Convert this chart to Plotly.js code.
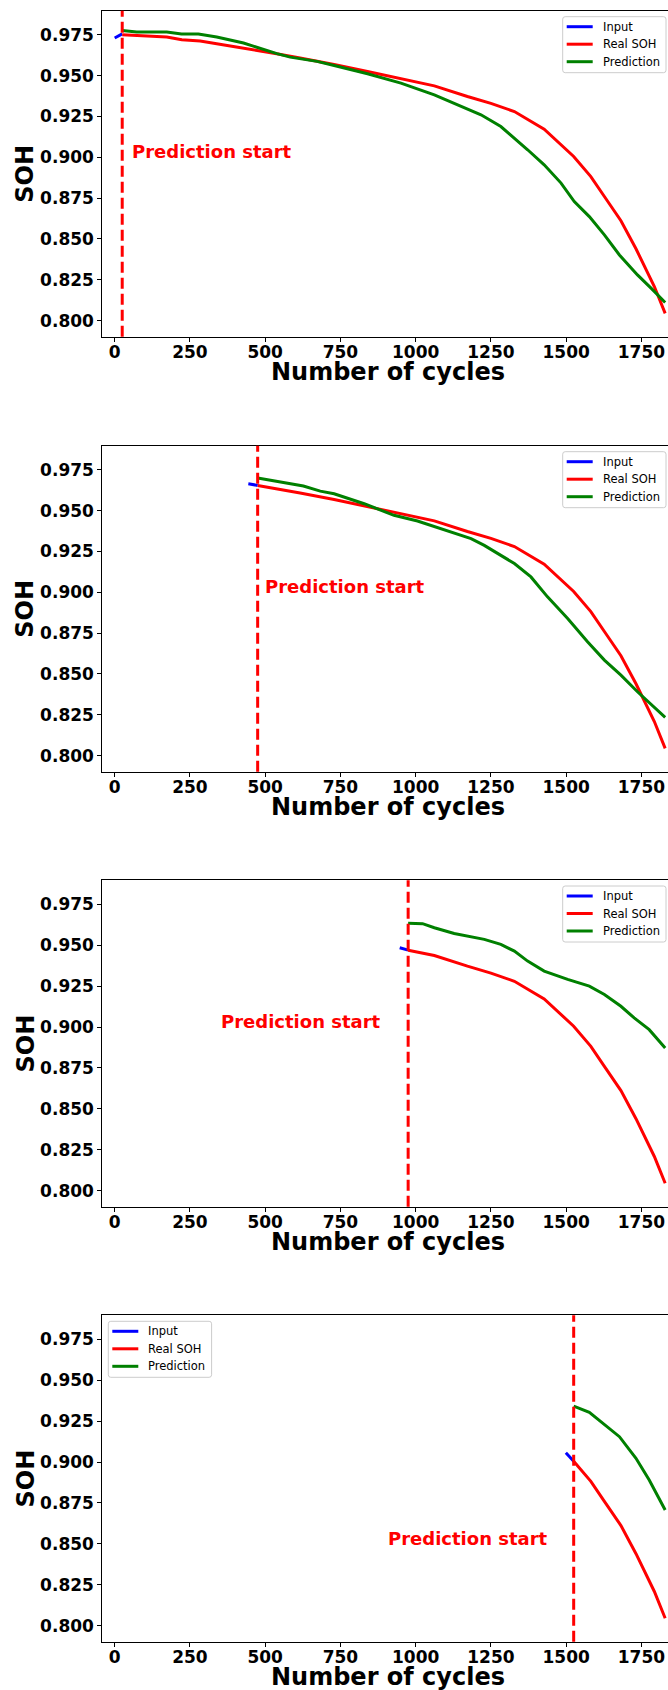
<!DOCTYPE html>
<html>
<head>
<meta charset="utf-8">
<script src="https://cdn.plot.ly/plotly-3.0.1.min.js"></script>
<style>
html, body { margin: 0; padding: 0; overflow: hidden; background: #fff; }
#chart { width: 673px; height: 1690px; }
</style>
</head>
<body>
<div id="chart"></div>
<script>
// ---- Data ----
const predStart = [25, 475, 975, 1525];

// Real SOH curve (shared by all panels, shown from prediction start)
const realX = [25, 173, 223, 284, 394, 475, 538, 616, 729, 840, 975, 1062, 1172, 1250, 1328, 1427, 1525, 1582, 1627, 1682, 1732, 1793, 1829];
const realY = [0.975, 0.9736, 0.9719, 0.9711, 0.9678, 0.9654, 0.9634, 0.9607, 0.9568, 0.9525, 0.9470, 0.9437, 0.9372, 0.9330, 0.9280, 0.9172, 0.9005, 0.8882, 0.8760, 0.8612, 0.8440, 0.8209, 0.8045];

// Input segments
const inputX1 = [0, 17, 25];   const inputY1 = [0.973, 0.975, 0.9755];
const inputX2 = [444, 475];    const inputY2 = [0.9664, 0.9654];
const inputX3 = [947, 975];    const inputY3 = [0.9485, 0.9470];
const inputX4 = [1499, 1525];  const inputY4 = [0.9057, 0.9005];

// Predictions
const predX1 = [25, 73, 173, 222, 278, 339, 428, 494, 539, 583, 672, 729, 840, 951, 1062, 1217, 1283, 1372, 1427, 1483, 1527, 1577, 1627, 1677, 1737, 1782, 1829];
const predY1 = [0.9776, 0.9766, 0.9766, 0.9754, 0.9754, 0.9736, 0.9699, 0.9658, 0.9634, 0.9613, 0.9587, 0.9562, 0.9511, 0.9454, 0.9382, 0.9260, 0.9188, 0.9046, 0.8954, 0.8842, 0.8729, 0.8637, 0.8525, 0.8402, 0.8280, 0.8199, 0.8111];
const predX2 = [475, 538, 572, 627, 683, 729, 829, 928, 1006, 1095, 1184, 1228, 1328, 1383, 1438, 1505, 1571, 1627, 1682, 1737, 1829];
const predY2 = [0.9699, 0.9678, 0.9664, 0.9650, 0.9619, 0.9603, 0.9542, 0.9471, 0.9436, 0.9383, 0.9328, 0.9287, 0.9176, 0.9094, 0.8972, 0.8840, 0.8697, 0.8585, 0.8493, 0.8391, 0.8235];
const predX3 = [975, 1023, 1062, 1128, 1228, 1283, 1328, 1372, 1427, 1505, 1577, 1627, 1682, 1726, 1776, 1829];
const predY3 = [0.9634, 0.9632, 0.9607, 0.9572, 0.9536, 0.9505, 0.9464, 0.9403, 0.9342, 0.9291, 0.9250, 0.9199, 0.9127, 0.9056, 0.8984, 0.8872];
const predX4 = [1525, 1577, 1677, 1732, 1776, 1829];
const predY4 = [0.9342, 0.9304, 0.9155, 0.9023, 0.8890, 0.8707];

// Text labels
const annX = [51, 494, 347, 903];
const annY = [0.9, 0.9, 0.9, 0.85];
const annText = 'Prediction start';
const seriesNames = ['Input', 'Real SOH', 'Prediction'];
const xTitle = 'Number of cycles';
const yTitle = 'SOH';
const xTicks = [0, 250, 500, 750, 1000, 1250, 1500, 1750];
const yTicks = [0.800, 0.825, 0.850, 0.875, 0.900, 0.925, 0.950, 0.975];

// ---- Build figure ----
const inputsX = [inputX1, inputX2, inputX3, inputX4];
const inputsY = [inputY1, inputY2, inputY3, inputY4];
const predsX = [predX1, predX2, predX3, predX4];
const predsY = [predY1, predY2, predY3, predY4];

const FONT = 'DejaVu Sans, sans-serif';
const W = 673, H = 1690;
const px2x = p => p / W;
const px2y = p => 1 - p / H;
const xDomain = [102.3 / W, 1];
const yDomains = [
  [px2y(336.7), px2y(10.7)],
  [px2y(771.7), px2y(445.7)],
  [px2y(1206.7), px2y(880.3)],
  [px2y(1641.7), px2y(1315.3)]
];
// legend box top-left corners (pixels)
const legendBox = [
  {left: 562.7, top: 16.7},
  {left: 562.7, top: 451.7},
  {left: 562.7, top: 886},
  {left: 108.3, top: 1321.3}
];
const LEG_W = 103.3, LEG_H = 56, LEG_R = 2.5;
const LEG_ROWS = [10, 27.5, 45];
const colors = ['#0000ff', '#ff0000', '#008000'];

const data = [];
const layout = {
  width: W, height: H,
  margin: {l: 0, r: 0, t: 0, b: 0},
  paper_bgcolor: '#ffffff',
  plot_bgcolor: '#ffffff',
  font: {family: FONT, color: '#000000'},
  showlegend: false,
  shapes: [],
  annotations: []
};

function roundRectPath(x0, y0, x1, y1, r) {
  const X = px2x, Y = px2y;
  return 'M' + X(x0 + r) + ',' + Y(y0) +
    ' L' + X(x1 - r) + ',' + Y(y0) +
    ' Q' + X(x1) + ',' + Y(y0) + ' ' + X(x1) + ',' + Y(y0 + r) +
    ' L' + X(x1) + ',' + Y(y1 - r) +
    ' Q' + X(x1) + ',' + Y(y1) + ' ' + X(x1 - r) + ',' + Y(y1) +
    ' L' + X(x0 + r) + ',' + Y(y1) +
    ' Q' + X(x0) + ',' + Y(y1) + ' ' + X(x0) + ',' + Y(y1 - r) +
    ' L' + X(x0) + ',' + Y(y0 + r) +
    ' Q' + X(x0) + ',' + Y(y0) + ' ' + X(x0 + r) + ',' + Y(y0) + ' Z';
}

for (let i = 0; i < 4; i++) {
  const s = i === 0 ? '' : String(i + 1);
  const xa = 'x' + s, ya = 'y' + s;
  const rx = [], ry = [];
  for (let k = 0; k < realX.length; k++) {
    if (realX[k] >= predStart[i]) { rx.push(realX[k]); ry.push(realY[k]); }
  }
  const series = [[inputsX[i], inputsY[i]], [rx, ry], [predsX[i], predsY[i]]];
  series.forEach((sv, j) => {
    data.push({
      type: 'scatter', mode: 'lines',
      x: sv[0], y: sv[1],
      name: seriesNames[j],
      xaxis: xa, yaxis: ya,
      line: {color: colors[j], width: 3},
      hoverinfo: 'skip'
    });
  });

  layout['xaxis' + s] = {
    domain: xDomain,
    anchor: ya,
    range: [-41.2, 1855],
    tickvals: xTicks,
    ticktext: xTicks.map(String),
    ticks: 'outside', ticklen: 4, tickwidth: 1, tickcolor: '#000',
    ticklabelstandoff: -4,
    tickfont: {family: FONT, size: 17, weight: 'bold', color: '#000'},
    showgrid: false, zeroline: false,
    showline: true, mirror: true, linecolor: '#000', linewidth: 1
  };
  layout['yaxis' + s] = {
    domain: yDomains[i],
    anchor: xa,
    range: [0.7902, 0.9897],
    tickvals: yTicks,
    ticktext: yTicks.map(v => v.toFixed(3)),
    ticks: 'outside', ticklen: 4, tickwidth: 1, tickcolor: '#000',
    tickfont: {family: FONT, size: 17, weight: 'bold', color: '#000'},
    showgrid: false, zeroline: false,
    showline: true, mirror: false, linecolor: '#000', linewidth: 1
  };

  // prediction start line
  layout.shapes.push({
    type: 'line', xref: xa, yref: ya + ' domain',
    x0: predStart[i], x1: predStart[i], y0: 0, y1: 1,
    line: {color: '#ff0000', width: 3, dash: '11px,5px'}
  });
  layout.annotations.push({
    xref: xa, yref: ya, x: annX[i], y: annY[i],
    text: annText, showarrow: false,
    xanchor: 'left', yanchor: 'middle', yshift: 5.5,
    font: {family: FONT, size: 18, weight: 'bold', color: '#ff0000'}
  });
  // axis titles
  layout.annotations.push({
    xref: xa + ' domain', yref: ya + ' domain', x: 0.5, y: 0,
    text: xTitle, showarrow: false,
    xanchor: 'center', yanchor: 'middle', yshift: -35,
    font: {family: FONT, size: 24, weight: 'bold', color: '#000'}
  });
  layout.annotations.push({
    xref: 'paper', yref: ya + ' domain', x: 25 / W, y: 0.5,
    text: yTitle, showarrow: false, textangle: -90,
    xanchor: 'center', yanchor: 'middle',
    font: {family: FONT, size: 24, weight: 'bold', color: '#000'}
  });

  // legend box
  const lb = legendBox[i];
  layout.shapes.push({
    type: 'path', xref: 'paper', yref: 'paper', layer: 'above',
    path: roundRectPath(lb.left, lb.top, lb.left + LEG_W, lb.top + LEG_H, LEG_R),
    fillcolor: 'rgba(255,255,255,0.8)',
    line: {color: '#cccccc', width: 1}
  });
  seriesNames.forEach((nm, j) => {
    const ry0 = lb.top + LEG_ROWS[j];
    layout.shapes.push({
      type: 'line', xref: 'paper', yref: 'paper', layer: 'above',
      x0: px2x(lb.left + 4), x1: px2x(lb.left + 30), y0: px2y(ry0), y1: px2y(ry0),
      line: {color: colors[j], width: 3}
    });
    layout.annotations.push({
      xref: 'paper', yref: 'paper', x: px2x(lb.left + 39), y: px2y(ry0),
      text: nm, showarrow: false, xanchor: 'left', yanchor: 'middle',
      borderpad: 0,
      font: {family: FONT, size: 11.5, color: '#000'}
    });
  });
}

Plotly.newPlot('chart', data, layout, {staticPlot: true, displayModeBar: false});
</script>
</body>
</html>
